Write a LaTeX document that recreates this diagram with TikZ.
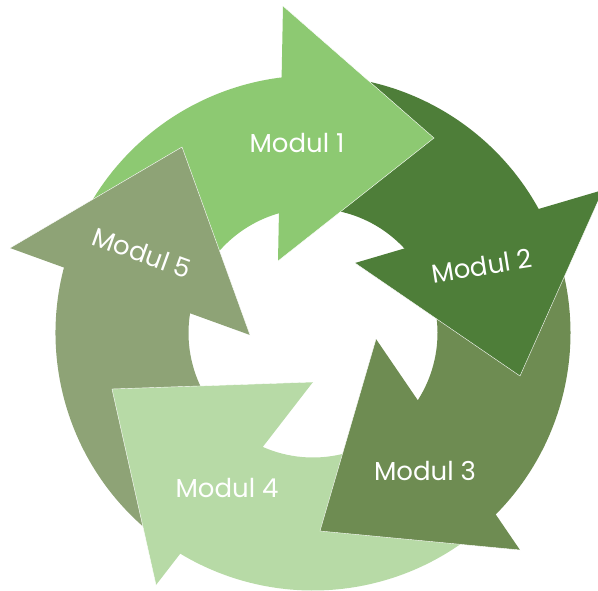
\documentclass[tikz,border=0pt]{standalone}
\usepackage{fontspec}
\setmainfont{Poppins}

\definecolor{modulA}{HTML}{8DC972}
\definecolor{modulB}{HTML}{4E7E39}
\definecolor{modulC}{HTML}{6E8C52}
\definecolor{modulD}{HTML}{B7DAA6}
\definecolor{modulE}{HTML}{8EA376}

\tikzset{
    seam/.style={draw=white, line width=0.4pt},
    modlabel/.style={text=white, inner sep=0pt, font=\fontsize{26}{30}\selectfont}
}

% ring piece between two angles
\newcommand{\ringpart}[3]{%
    \fill[#1] ([shift={(#2:257.5)}]c) arc[start angle=#2, end angle=#3, radius=257.5]
        -- ([shift={(#3:124.5)}]c) arc[start angle=#3, end angle=#2, radius=124.5] -- cycle;}

\begin{document}
\begin{tikzpicture}[x=1pt, y=1pt]
        \clip (0,0) rectangle (598,-590);
        \coordinate (c)  at (313,-333);
        \coordinate (o1) at (283,-6);
        \coordinate (t1) at (434,-138);
        \coordinate (i1) at (278,-261);
        \coordinate (o2) at (603,-190);
        \coordinate (t2) at (520,-376);
        \coordinate (i2) at (355,-263);
        \coordinate (o3) at (520,-550);
        \coordinate (t3) at (320,-531);
        \coordinate (i3) at (376,-339);
        \coordinate (o4) at (156,-585);
        \coordinate (t4) at (112,-389);
        \coordinate (i4) at (313,-382);
        \coordinate (o5) at (10,-248);
        \coordinate (t5) at (182,-147);
        \coordinate (i5) at (250,-335);
        % bodies
        \ringpart{modulA}{156}{87}
        \ringpart{modulB}{87}{20}
        \ringpart{modulC}{20}{-50}
        \ringpart{modulD}{-50}{-126}
        \ringpart{modulE}{234}{156}
        % heads
        \fill[modulA] (o1) -- (t1) -- (i1) -- cycle;
        \fill[modulB] (o2) -- (t2) -- (i2) -- cycle;
        \fill[modulC] (o3) -- (t3) -- (i3) -- cycle;
        \fill[modulD] (o4) -- (t4) -- (i4) -- cycle;
        \fill[modulE] (o5) -- (t5) -- (i5) -- cycle;
        \draw[seam] (o1) -- (t1) -- (i1);
        \draw[seam] (o2) -- (t2) -- (i2);
        \draw[seam] (o3) -- (t3) -- (i3);
        \draw[seam] (o4) -- (t4) -- (i4);
        \draw[seam] (o5) -- (t5) -- (i5);
        % labels
        \node[modlabel] (m1) at (297,-143) {Modul 1};
        \node[modlabel, rotate=9] (m2) at (482,-266) {Modul 2};
        \node[modlabel] (m3) at (425,-471) {Modul 3};
        \node[modlabel] (m4) at (227,-488) {Modul 4};
        \node[modlabel, rotate=-20] (m5) at (142,-253) {Modul 5};
    \end{tikzpicture}
\end{document}
